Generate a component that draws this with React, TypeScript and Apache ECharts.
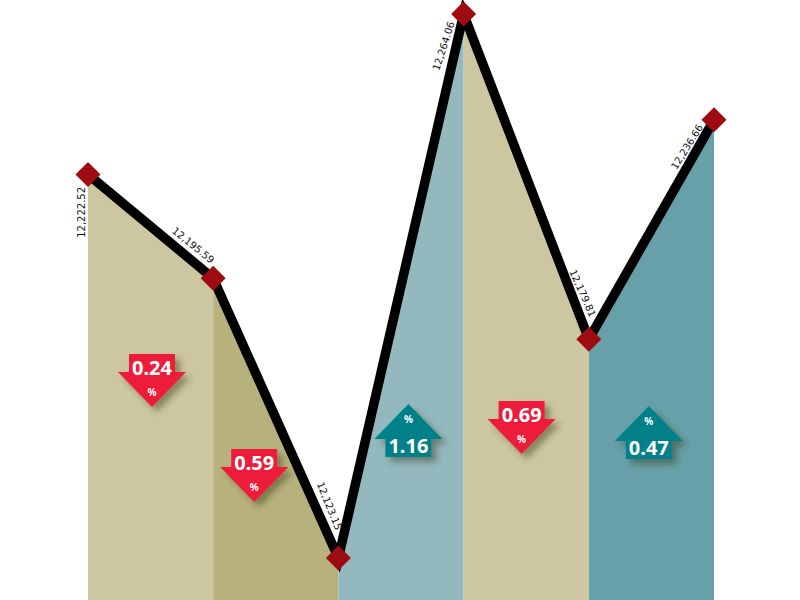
import React, { useEffect, useRef } from "react";
import * as echarts from "echarts";

const categories = ["P1", "P2", "P3", "P4", "P5", "P6"];
const closeValues = [12222.52, 12195.59, 12123.15, 12264.06, 12179.81, 12236.66];
const changePercent = [0.24, 0.59, 1.16, 0.69, 0.47];
const changeDirection = ["down", "down", "up", "down", "up"];
const segmentColors = ["#CCC7A1", "#B7B27D", "#93B9BF", "#CCC7A1", "#67A0A8"];

const Y_MIN = 12112.25;
const Y_MAX = 12267.7;

const labelLayout = [
  { rotate: 90, dx: -7, dy: 38 },
  { rotate: -39, dx: -20, dy: -33 },
  { rotate: -68, dx: -9, dy: -52 },
  { rotate: 72, dx: -20, dy: 32 },
  { rotate: -66, dx: -6, dy: -46 },
  { rotate: 58, dx: -27, dy: 27 },
];
const arrowLayout = [
  { dx: 64, top: 354 },
  { dx: 41, top: 449 },
  { dx: 70, top: 404 },
  { dx: 58, top: 401 },
  { dx: 60, top: 406 },
];

const RED = "#EE1C3A";
const TEAL = "#00818A";
const fmt = (v: number) => v.toLocaleString("en-US", { minimumFractionDigits: 2, maximumFractionDigits: 2 });

// ECharts applies a label's offset in the label's rotated frame.
const rotatedOffset = (dx: number, dy: number, deg: number) => {
  const t = (deg * Math.PI) / 180;
  return [dx * Math.cos(t) - dy * Math.sin(t), dx * Math.sin(t) + dy * Math.cos(t)];
};

export default function App() {
  const ref = useRef<HTMLDivElement>(null);

  useEffect(() => {
    const chart = echarts.init(ref.current!, undefined, { renderer: "svg" });

    const areas = segmentColors.map((color, i) => ({
      type: "line",
      data: closeValues.map((v, j) => (j === i || j === i + 1 ? v : null)),
      showSymbol: false,
      silent: true,
      z: 1,
      lineStyle: { width: 0 },
      areaStyle: { color, opacity: 1 },
    }));

    const arrows = {
      type: "custom",
      z: 6,
      clip: false,
      silent: true,
      encode: { x: 0, y: 1 },
      data: changePercent.map((_, i) => [i, Y_MIN]),
      renderItem: (params: any, api: any) => {
        const i = params.dataIndex;
        const origin = api.coord([api.value(0), api.value(1)]);
        const cx = origin[0] + arrowLayout[i].dx;
        const top = arrowLayout[i].top;
        const down = changeDirection[i] === "down";
        const color = down ? RED : TEAL;
        const pts = down
          ? [
              [cx - 23, top], [cx + 23, top], [cx + 23, top + 18], [cx + 34, top + 18],
              [cx, top + 53], [cx - 34, top + 18], [cx - 23, top + 18],
            ]
          : [
              [cx, top], [cx + 34, top + 35], [cx + 23, top + 35], [cx + 23, top + 53],
              [cx - 23, top + 53], [cx - 23, top + 35], [cx - 34, top + 35],
            ];
        const numY = down ? top + 13 : top + 41;
        const pctY = down ? top + 38 : top + 15;
        return {
          type: "group",
          children: [
            {
              type: "polygon",
              shape: { points: pts },
              style: { fill: color, shadowColor: "rgba(50,50,30,0.45)", shadowBlur: 6, shadowOffsetX: 5, shadowOffsetY: 5 },
            },
            {
              type: "text",
              x: cx,
              y: numY,
              style: {
                text: changePercent[i].toFixed(2),
                fill: "#fff",
                font: 'bold 20px "Noto Sans"',
                align: "center",
                verticalAlign: "middle",
              },
            },
            {
              type: "text",
              x: cx,
              y: pctY,
              style: {
                text: "%",
                fill: "#fff",
                font: 'bold 10px "Noto Sans"',
                align: "center",
                verticalAlign: "middle",
              },
            },
          ],
        };
      },
    };

    const mainLine = {
      type: "line",
      z: 5,
      silent: true,
      symbol: "diamond",
      symbolSize: 25,
      showAllSymbol: true,
      lineStyle: { color: "#000", width: 9.5, join: "miter", miterLimit: 4 },
      itemStyle: { color: "#9E0B10" },
      data: closeValues.map((value, i) => ({
        value,
        label: {
          show: true,
          position: "inside",
          rotate: labelLayout[i].rotate,
          offset: rotatedOffset(labelLayout[i].dx, labelLayout[i].dy, labelLayout[i].rotate),
          align: "center",
          verticalAlign: "middle",
          formatter: fmt(value),
          color: "#111",
          fontFamily: "DejaVu Sans",
          fontSize: 10,
        },
      })),
    };

    chart.setOption({
      animation: false,
      backgroundColor: "#fff",
      grid: { left: 88, right: 86, top: 0, bottom: 0 },
      xAxis: { type: "category", data: categories, boundaryGap: false, show: false },
      yAxis: { type: "value", min: Y_MIN, max: Y_MAX, show: false },
      series: [...areas, mainLine, arrows],
    });

    return () => chart.dispose();
  }, []);

  return <div ref={ref} style={{ position: "absolute", left: 0, top: 0, width: 800, height: 600 }} />;
}
